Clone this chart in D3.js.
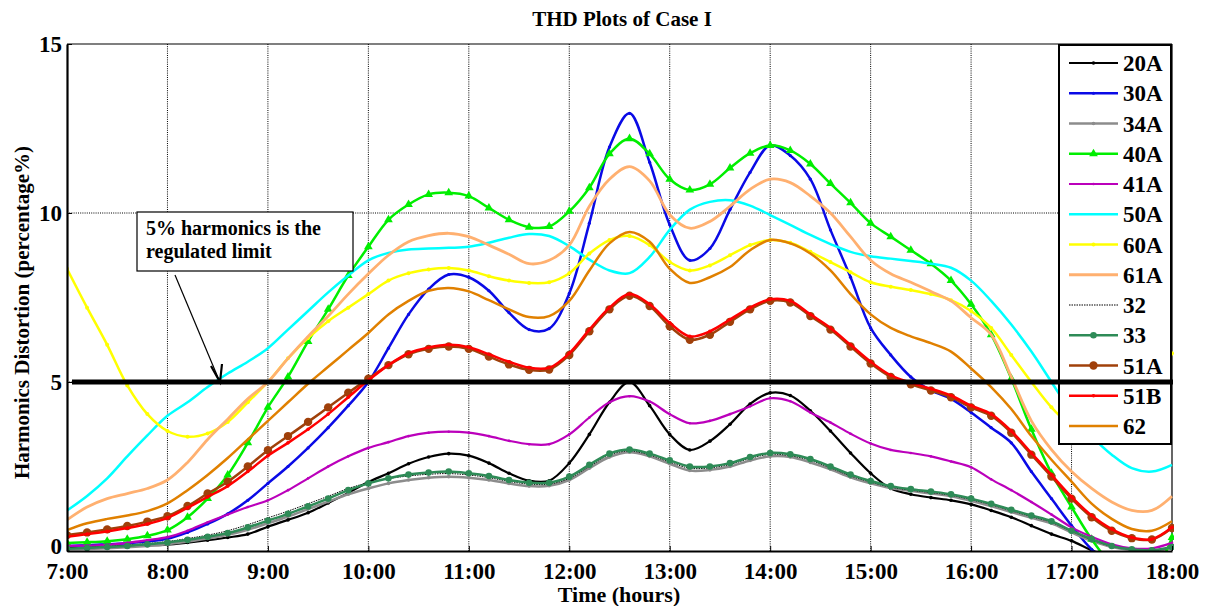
<!DOCTYPE html>
<html><head><meta charset="utf-8">
<script src="https://cdn.jsdelivr.net/npm/d3@7"></script>
<style>body{margin:0;background:#fff} text{font-family:'Liberation Serif','Times New Roman',Tinos,serif;font-weight:bold}</style>
</head><body>
<svg id="c" width="1211" height="606"></svg>
<script>
// ---------- DATA ----------
const timeLabels = [
 "7:00","7:12","7:24","7:36","7:48",
 "8:00","8:12","8:24","8:36","8:48",
 "9:00","9:12","9:24","9:36","9:48",
 "10:00","10:12","10:24","10:36","10:48",
 "11:00","11:12","11:24","11:36","11:48",
 "12:00","12:12","12:24","12:36","12:48",
 "13:00","13:12","13:24","13:36","13:48",
 "14:00","14:12","14:24","14:36","14:48",
 "15:00","15:12","15:24","15:36","15:48",
 "16:00","16:12","16:24","16:36","16:48",
 "17:00","17:12","17:24","17:36","17:48",
 "18:00"];
const xTickLabels = ["7:00","8:00","9:00","10:00","11:00","12:00","13:00","14:00","15:00","16:00","17:00","18:00"];
const yTickValues = [0,5,10,15];
const seriesNames = ["20A","30A","34A","40A","41A","50A","60A","61A","32","33","51A","51B","62"];

const s20A = [0.09,0.10,0.12,0.15,0.17, 0.19,0.25,0.32,0.40,0.50, 0.72,0.92,1.13,1.42,1.72,
 2.04,2.30,2.58,2.78,2.88, 2.82,2.60,2.30,2.08,2.08, 2.60,3.45,4.40,5.00,4.30,
 3.45,2.99,3.25,3.75,4.35, 4.68,4.60,4.15,3.55,2.90, 2.30,1.85,1.68,1.58,1.50,
 1.38,1.20,1.00,0.75,0.50, 0.30,0.02,-0.20,-0.30,-0.20, -0.10];
const s30A = [0.15,0.17,0.20,0.23,0.28, 0.36,0.55,0.80,1.10,1.50, 2.00,2.50,3.05,3.65,4.30,
 5.00,6.00,7.00,7.75,8.18, 8.10,7.70,7.05,6.55,6.58, 7.62,9.70,11.95,12.95,11.50,
 9.65,8.60,8.95,10.10,11.20, 12.00,11.70,11.00,9.50,8.10, 6.60,5.80,5.15,4.75,4.50,
 4.10,3.65,3.20,2.35,1.55, 0.75,0.05,-0.40,-0.60,-0.50, -0.20];
const s34A = [0.05,0.06,0.08,0.11,0.15, 0.20,0.28,0.37,0.48,0.63, 0.82,1.02,1.24,1.46,1.68,
 1.85,2.00,2.10,2.17,2.20, 2.17,2.10,2.00,1.92,1.93, 2.10,2.45,2.78,2.92,2.80,
 2.58,2.38,2.40,2.50,2.68, 2.80,2.78,2.62,2.42,2.18, 2.00,1.86,1.78,1.70,1.62,
 1.48,1.33,1.15,0.98,0.82, 0.55,0.30,0.12,0.03,0.00, 0.08];
const s40A = [0.24,0.26,0.29,0.35,0.45, 0.62,1.00,1.55,2.25,3.20, 4.25,5.15,6.20,7.15,8.15,
 9.00,9.80,10.25,10.55,10.60, 10.50,10.15,9.80,9.58,9.60, 10.05,10.75,11.75,12.20,11.75,
 11.00,10.68,10.85,11.33,11.77, 12.00,11.85,11.45,10.87,10.30, 9.70,9.30,8.90,8.50,8.00,
 7.30,6.40,5.10,3.60,2.30, 1.30,0.35,-0.40,-0.80,-0.70, 0.40];
const s41A = [0.15,0.16,0.18,0.24,0.32, 0.41,0.60,0.85,1.08,1.30, 1.50,1.80,2.15,2.50,2.80,
 3.05,3.22,3.40,3.50,3.53, 3.50,3.40,3.26,3.16,3.16, 3.45,3.95,4.40,4.58,4.42,
 4.05,3.78,3.85,4.05,4.28, 4.52,4.43,4.10,3.80,3.47, 3.18,2.99,2.90,2.80,2.65,
 2.48,2.12,1.80,1.45,1.08, 0.70,0.42,0.20,0.08,0.08, 0.24];
const s50A = [1.20,1.63,2.15,2.80,3.42, 4.00,4.40,4.85,5.25,5.60, 6.00,6.55,7.10,7.65,8.15,
 8.60,8.82,8.92,8.95,8.97, 9.00,9.12,9.27,9.38,9.32, 9.02,8.62,8.30,8.22,8.70,
 9.50,10.10,10.33,10.38,10.22, 9.94,9.65,9.35,9.08,8.85, 8.72,8.65,8.58,8.50,8.38,
 8.00,7.40,6.70,5.90,5.00, 4.10,3.40,2.85,2.45,2.35, 2.55];
const s60A = [8.35,7.20,6.10,4.90,4.05, 3.55,3.38,3.48,3.82,4.40, 5.00,5.70,6.30,6.80,7.20,
 7.60,8.00,8.22,8.33,8.37, 8.30,8.13,8.00,7.93,7.95, 8.22,8.80,9.20,9.32,9.05,
 8.55,8.30,8.45,8.75,9.05, 9.20,9.12,8.85,8.55,8.25, 7.95,7.82,7.72,7.60,7.42,
 7.10,6.60,5.80,5.00,4.25, 3.70,3.40,3.40,3.75,4.50, 5.85];
const s61A = [0.92,1.30,1.55,1.70,1.85, 2.10,2.62,3.30,3.90,4.50, 5.00,5.70,6.35,6.95,7.60,
 8.20,8.75,9.15,9.33,9.40, 9.30,9.05,8.78,8.50,8.60, 9.05,10.20,11.00,11.37,10.95,
 9.95,9.55,9.75,10.20,10.70, 11.00,10.90,10.50,10.00,9.30, 8.60,8.20,7.95,7.68,7.40,
 6.90,6.40,5.15,3.85,3.00, 2.35,1.85,1.45,1.20,1.20, 1.62];
const s32 = [0.08,0.10,0.13,0.17,0.22, 0.28,0.37,0.47,0.60,0.78, 0.98,1.18,1.40,1.62,1.85,
 2.02,2.14,2.22,2.27,2.29, 2.25,2.17,2.06,1.98,1.98, 2.15,2.50,2.84,2.96,2.84,
 2.63,2.45,2.46,2.56,2.74, 2.86,2.82,2.68,2.46,2.22, 2.04,1.89,1.80,1.73,1.65,
 1.52,1.37,1.19,1.02,0.85, 0.58,0.33,0.14,0.04,0.01, 0.10];
const s33 = [0.07,0.09,0.12,0.15,0.20, 0.25,0.33,0.42,0.53,0.70, 0.90,1.10,1.32,1.55,1.80,
 2.00,2.15,2.26,2.32,2.35, 2.30,2.22,2.10,2.02,2.02, 2.20,2.55,2.88,3.00,2.88,
 2.68,2.50,2.50,2.60,2.78, 2.90,2.86,2.72,2.50,2.26, 2.07,1.92,1.83,1.76,1.68,
 1.55,1.40,1.22,1.05,0.88, 0.60,0.35,0.15,0.05,0.02, 0.12];
const s51A = [0.47,0.55,0.64,0.74,0.87, 1.03,1.33,1.70,2.05,2.50, 2.98,3.40,3.82,4.25,4.68,
 5.10,5.50,5.82,5.98,6.05, 5.98,5.75,5.52,5.36,5.37, 5.80,6.50,7.15,7.55,7.25,
 6.65,6.25,6.40,6.78,7.15, 7.40,7.35,6.95,6.55,6.05, 5.55,5.15,4.93,4.75,4.55,
 4.25,4.00,3.50,2.85,2.20, 1.55,1.00,0.60,0.38,0.34, 0.68];
const s51B = [0.42,0.50,0.58,0.68,0.80, 0.98,1.28,1.60,1.92,2.35, 2.82,3.20,3.60,4.05,4.55,
 5.05,5.50,5.85,6.02,6.10, 6.03,5.82,5.60,5.42,5.42, 5.85,6.55,7.20,7.60,7.30,
 6.75,6.35,6.50,6.85,7.20, 7.45,7.40,7.00,6.60,6.10, 5.60,5.20,4.98,4.80,4.60,
 4.30,4.05,3.55,2.90,2.25, 1.60,1.05,0.65,0.40,0.35, 0.70];
const s62 = [0.62,0.82,0.95,1.05,1.18, 1.41,1.80,2.25,2.75,3.30, 3.85,4.40,4.95,5.45,5.95,
 6.45,7.00,7.40,7.70,7.78, 7.68,7.42,7.15,6.92,6.95, 7.40,8.30,9.10,9.44,9.15,
 8.35,7.93,8.10,8.40,8.90, 9.20,9.10,8.80,8.30,7.60, 7.00,6.60,6.35,6.15,5.90,
 5.40,4.85,4.20,3.40,2.70, 2.05,1.40,0.95,0.65,0.60, 0.88];
const seriesValues = [s20A,s30A,s34A,s40A,s41A,s50A,s60A,s61A,s32,s33,s51A,s51B,s62];
const limitValue = 5;
const titleText = "THD Plots of Case I";
const xTitle = "Time (hours)";
const yTitle = "Harmonics Distortion (percentage%)";
const noteLines = ["5% harmonics is the","regulated limit"];

// ---------- STYLES ----------
const styles = {
 "20A":{color:"#000000", w:2.2, marker:"dot", r:1.8},
 "30A":{color:"#0a0ae6", w:2.5, marker:"dot", r:1.6},
 "34A":{color:"#8c8c8c", w:2.5, marker:"dot", r:1.8},
 "40A":{color:"#00ee00", w:2.5, marker:"tri", r:3.2},
 "41A":{color:"#bb00bb", w:2.2, marker:"dot", r:1.3},
 "50A":{color:"#00ffff", w:2.5, marker:"none"},
 "60A":{color:"#ffff00", w:2.5, marker:"dot", r:2.0},
 "61A":{color:"#ffb070", w:2.8, marker:"none"},
 "32": {color:"#000000", w:1, marker:"none", dash:"1.5,1"},
 "33": {color:"#2e8b57", w:2.5, marker:"dot", r:3.3},
 "51A":{color:"#a0400a", w:2.5, marker:"dot", r:4.2},
 "51B":{color:"#ff0000", w:2.5, marker:"dot", r:1.8},
 "62": {color:"#e08000", w:2.5, marker:"none"}
};
const serif = "'Liberation Serif','Times New Roman',Tinos,serif";

// ---------- CHART ----------
const svg = d3.select("#c");
const L=67, R=1172, T=44, B=551;
const parseT = s => { const [h,m]=s.split(":").map(Number); return h + m/60; };
const hours = timeLabels.map(parseT);
const x = d3.scaleLinear().domain([7,18]).range([L,R]);
const y = d3.scaleLinear().domain([0,15]).range([B,T]);

svg.append("rect").attr("width",1211).attr("height",606).attr("fill","#fff");

// grid
const g = svg.append("g");
g.selectAll("line.vg").data(xTickLabels.slice(1,-1)).join("line")
 .attr("x1",d=>x(parseT(d))).attr("x2",d=>x(parseT(d)))
 .attr("y1",T).attr("y2",B).attr("stroke","#000").attr("stroke-width",1)
 .attr("stroke-dasharray","1,1.2");
g.selectAll("line.hg").data(yTickValues.slice(1,-1)).join("line")
 .attr("x1",L).attr("x2",R).attr("y1",d=>y(d)).attr("y2",d=>y(d))
 .attr("stroke","#000").attr("stroke-width",1).attr("stroke-dasharray","1,1.2");

// frame top/right
svg.append("line").attr("x1",L).attr("x2",R).attr("y1",T).attr("y2",T).attr("stroke","#000").attr("stroke-width",1.2);
svg.append("line").attr("x1",R).attr("x2",R).attr("y1",T).attr("y2",B).attr("stroke","#000").attr("stroke-width",1.2);

// clip
svg.append("clipPath").attr("id","clip").append("rect").attr("x",L).attr("y",T).attr("width",R-L+2).attr("height",B-T);

const lineGen = d3.line().x((d,i)=>x(hours[i])).y(d=>y(d)).curve(d3.curveCatmullRom.alpha(0.5));
const plot = svg.append("g").attr("clip-path","url(#clip)");
const tri = d3.symbol().type(d3.symbolTriangle);

seriesNames.forEach((name,k)=>{
 const st = styles[name], vals = seriesValues[k];
 plot.append("path").attr("d",lineGen(vals)).attr("fill","none")
  .attr("stroke",st.color).attr("stroke-width",st.w)
  .attr("stroke-dasharray",st.dash||null).attr("stroke-linejoin","round");
 if(st.marker==="dot"){
  plot.selectAll(null).data(vals).join("circle")
   .attr("cx",(d,i)=>x(hours[i])).attr("cy",d=>y(d)).attr("r",st.r).attr("fill",st.color);
 } else if(st.marker==="tri"){
  plot.selectAll(null).data(vals).join("path")
   .attr("d",tri.size(st.r*st.r*3.2)()).attr("fill",st.color)
   .attr("transform",(d,i)=>`translate(${x(hours[i])},${y(d)})`);
 }
});

// axes
const xAxis = svg.append("g").attr("transform",`translate(0,${B})`)
 .call(d3.axisBottom(x).tickValues(xTickLabels.map(parseT)).tickFormat((d,i)=>xTickLabels[i]).tickSizeInner(-5).tickSizeOuter(0).tickPadding(12));
xAxis.select(".domain").attr("stroke-width",2.2);
xAxis.selectAll("text").attr("font-family",serif).attr("font-weight","bold").attr("font-size",23).attr("fill","#000");
const yAxis = svg.append("g").attr("transform",`translate(${L},0)`)
 .call(d3.axisLeft(y).tickValues(yTickValues).tickSizeInner(-5).tickSizeOuter(0).tickPadding(5));
yAxis.select(".domain").attr("stroke-width",2.2);
yAxis.selectAll("text").attr("font-family",serif).attr("font-weight","bold").attr("font-size",23).attr("fill","#000")
 .attr("dy",d=>d===0?"0.12em":"0.32em");

// titles
svg.append("text").attr("x",622).attr("y",26).attr("text-anchor","middle")
 .attr("font-family",serif).attr("font-weight","bold").attr("font-size",21).text(titleText);
svg.append("text").attr("x",619).attr("y",602).attr("text-anchor","middle")
 .attr("font-family",serif).attr("font-weight","bold").attr("font-size",22).text(xTitle);
svg.append("text").attr("transform",`translate(29,${(T+B)/2+15}) rotate(-90)`).attr("text-anchor","middle")
 .attr("font-family",serif).attr("font-weight","bold").attr("font-size",21).text(yTitle);

// annotation
svg.append("rect").attr("x",137).attr("y",212).attr("width",216).attr("height",59)
 .attr("fill","#fff").attr("stroke","#000").attr("stroke-width",1.2);
noteLines.forEach((t,i)=>svg.append("text").attr("x",146).attr("y",235+i*23)
 .attr("font-family",serif).attr("font-weight","bold").attr("font-size",20).text(t));
svg.append("line").attr("x1",175).attr("y1",275).attr("x2",219).attr("y2",380)
 .attr("stroke","#000").attr("stroke-width",1.2);
svg.append("path").attr("d","M211,366 L220,382 L222,364").attr("fill","none").attr("stroke","#000").attr("stroke-width",2.2);

// legend
const lg = svg.append("g");
lg.append("rect").attr("x",1059).attr("y",45).attr("width",112).attr("height",399)
 .attr("fill","#fff").attr("stroke","#000").attr("stroke-width",2);
seriesNames.forEach((name,k)=>{
 const st = styles[name], cy = 63 + k*30.25;
 lg.append("line").attr("x1",1069).attr("x2",1118).attr("y1",cy).attr("y2",cy)
  .attr("stroke",st.color).attr("stroke-width",st.w).attr("stroke-dasharray",st.dash||null);
 if(st.marker==="dot") lg.append("circle").attr("cx",1093.5).attr("cy",cy).attr("r",st.r).attr("fill",st.color);
 if(st.marker==="tri") lg.append("path").attr("d",tri.size(st.r*st.r*3.2)()).attr("fill",st.color).attr("transform",`translate(1093.5,${cy})`);
 lg.append("text").attr("x",1123).attr("y",cy+8).attr("font-family",serif).attr("font-weight","bold")
  .attr("font-size",23).text(name);
});

// 5% limit line (drawn on top)
svg.append("line").attr("x1",72).attr("x2",R+1).attr("y1",y(limitValue)).attr("y2",y(limitValue))
 .attr("stroke","#000").attr("stroke-width",5);
</script>
</body></html>
